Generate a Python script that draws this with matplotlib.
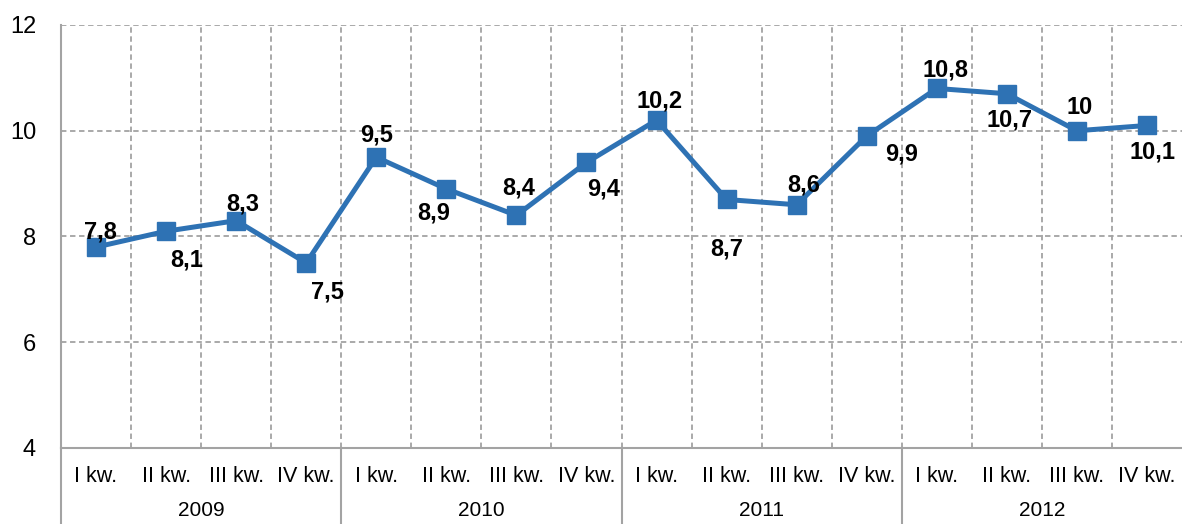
import matplotlib.pyplot as plt
import matplotlib.transforms as mtransforms

plt.rcParams['font.family'] = ['Liberation Sans', 'DejaVu Sans']

#### data
quarters = ["I kw.", "II kw.", "III kw.", "IV kw."] * 4
years = ["2009", "2010", "2011", "2012"]
values = [7.8, 8.1, 8.3, 7.5, 9.5, 8.9, 8.4, 9.4,
          10.2, 8.7, 8.6, 9.9, 10.8, 10.7, 10.0, 10.1]

# label offsets in points (dx, dy) - placement only
label_offsets = [(3, 11), (15, -21), (5, 12), (15, -21), (0, 16), (-9, -17), (2, 20), (12, -19),
                 (2, 14), (0, -36), (5, 14), (25, -13), (6, 13), (2, -19), (2, 17), (4, -19)]

line_color = "#2E72B4"
grid_color = "#A3A3A3"

fig = plt.figure(figsize=(11.82, 5.24), dpi=100)
ax = fig.add_axes([61 / 1182, 76 / 524, 1121 / 1182, 423 / 524])

x = list(range(len(values)))
ax.plot(x, values, color=line_color, linewidth=3.6, marker="s", markersize=12.5,
        markeredgecolor=line_color, zorder=3, clip_on=False)

for xi, v, (dx, dy) in zip(x, values, label_offsets):
    txt = ("%.1f" % v).replace(".", ",")
    if txt.endswith(",0"):
        txt = txt[:-2]
    ax.annotate(txt, (xi, v), xytext=(dx, dy), textcoords="offset points",
                ha="center", va="center", fontsize=17, fontweight="bold", color="black")

ax.set_xlim(-0.5, len(values) - 0.5)
ax.set_ylim(4, 12)
ax.set_yticks([4, 6, 8, 10, 12])
ax.set_yticklabels(["4", "6", "8", "10", "12"], fontsize=17)

ax.set_xticks(x)
ax.set_xticklabels(quarters, fontsize=15.5)
ax.set_xticks([i + 0.5 for i in range(len(values) - 1)], minor=True)
ax.tick_params(axis="both", which="both", length=0)
ax.tick_params(axis="x", pad=13)
ax.tick_params(axis="y", pad=18)

ax.grid(True, axis="y", which="major", linestyle=(0, (3, 2)), color=grid_color, linewidth=1.3)
ax.grid(True, axis="x", which="minor", linestyle=(0, (3, 2)), color=grid_color, linewidth=1.3)
ax.grid(False, axis="x", which="major")
ax.set_axisbelow(True)

for s in ["top", "right"]:
    ax.spines[s].set_visible(False)
for s in ["left", "bottom"]:
    ax.spines[s].set_color(grid_color)
    ax.spines[s].set_linewidth(1.5)

# year row and separators below the axis
trans = mtransforms.blended_transform_factory(ax.transData, ax.transAxes)
low = -76 / 423
for k, yr in enumerate(years):
    ax.text(4 * k + 1.5, -63 / 423, yr, transform=trans, ha="center", va="center", fontsize=15)
for b in [-0.5, 3.5, 7.5, 11.5]:
    ax.plot([b, b], [0, low], transform=trans, color=grid_color, linewidth=1.5, clip_on=False)

fig.savefig("out.png", dpi=100)
